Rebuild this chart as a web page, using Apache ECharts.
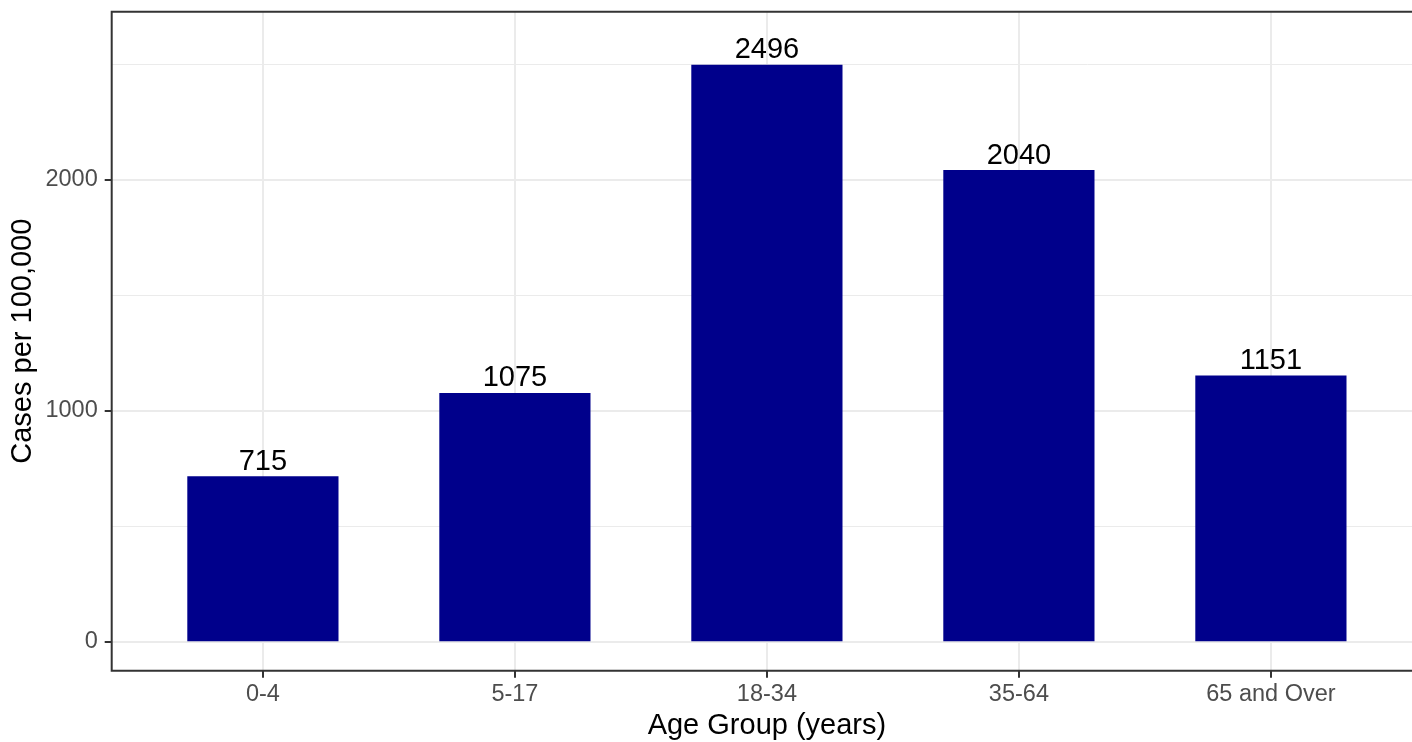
<!DOCTYPE html>
<html><head><meta charset="utf-8">
<script src="https://cdn.jsdelivr.net/npm/echarts@6/dist/echarts.min.js"></script>
<style>html,body{margin:0;padding:0;background:#fff}#c{width:1412px;height:742px}</style>
</head><body><div id="c"></div>
<script>
// ---- data ----
const categories = ['0-4', '5-17', '18-34', '35-64', '65 and Over'];
const values = [715, 1075, 2496, 2040, 1151];
const yMajorMax = 2000;   // last labelled tick (0, 1000, 2000)
const yMajorStep = 1000;
const yMinorTop = 2500;   // top minor gridline

// ---- layout ----
const FONT = "'Liberation Sans', Arial, sans-serif";
const PL = 111.7, PT = 11.7, PB = 670.7;
const band = 252, pad = 0.6;
const n = categories.length;
const PR = PL + band * (n - 1 + 2 * pad);
const Y0px = 641.3, k = 0.231;
const yMin = -(PB - Y0px) / k, yMax = (Y0px - PT) / k;
const py = v => Y0px - v * k;

const hidden = { show: false };
const chart = echarts.init(document.getElementById('c'), null, { renderer: 'canvas' });
chart.setOption({
  animation: false,
  textStyle: { fontFamily: FONT },
  grid: [
    { left: PL, top: PT, width: PR - PL, height: PB - PT, show: true, borderColor: '#333333', borderWidth: 2, backgroundColor: 'transparent', containLabel: false, outerBoundsMode: 'none', z: 5 },
    { left: PL, top: py(yMajorMax), width: PR - PL, height: py(0) - py(yMajorMax), containLabel: false, outerBoundsMode: 'none' },
    { left: PL, top: py(yMinorTop), width: PR - PL, height: py(0) - py(yMinorTop), containLabel: false, outerBoundsMode: 'none' },
    { left: PL + pad * band, top: PT, width: band * (n - 1), height: PB - PT, containLabel: false, outerBoundsMode: 'none' }
  ],
  xAxis: [
    { gridIndex: 0, type: 'value', min: 0, max: 1, show: false },
    { gridIndex: 1, type: 'value', min: 0, max: 1, show: false },
    { gridIndex: 2, type: 'value', min: 0, max: 1, show: false },
    {
      gridIndex: 3, type: 'category', data: categories, boundaryGap: false, position: 'bottom',
      axisLine: { show: false, onZero: false },
      axisTick: { show: true, length: 7, alignWithLabel: true, lineStyle: { color: '#333333', width: 2 } },
      axisLabel: { interval: 0, fontSize: 23.5, color: '#4D4D4D', margin: 12, fontFamily: FONT },
      splitLine: { show: true, lineStyle: { color: '#EBEBEB', width: 2 } },
      name: 'Age Group (years)', nameLocation: 'middle', nameGap: 38,
      nameTextStyle: { fontSize: 29, color: '#000000', fontFamily: FONT }
    }
  ],
  yAxis: [
    {
      gridIndex: 0, type: 'value', min: yMin, max: yMax,
      axisLine: hidden, axisTick: hidden, axisLabel: hidden, splitLine: hidden,
      name: 'Cases per 100,000', nameLocation: 'middle', nameGap: 74, nameRotate: 90,
      nameTextStyle: { fontSize: 29, color: '#000000', fontFamily: FONT }
    },
    {
      gridIndex: 1, type: 'value', min: 0, max: yMajorMax, interval: yMajorStep,
      axisLine: { show: false, onZero: false },
      axisTick: { show: true, length: 7, lineStyle: { color: '#333333', width: 2 } },
      axisLabel: { fontSize: 23.5, color: '#4D4D4D', margin: 14, fontFamily: FONT, formatter: v => String(v) },
      splitLine: { show: true, lineStyle: { color: '#EBEBEB', width: 2 } },
      minorTick: { show: false, splitNumber: 2 },
      minorSplitLine: { show: true, lineStyle: { color: '#EBEBEB', width: 1 } }
    },
    {
      gridIndex: 2, type: 'value', min: 0, max: yMinorTop, interval: yMinorTop,
      axisLine: hidden, axisTick: hidden, axisLabel: hidden,
      splitLine: { show: true, lineStyle: { color: '#EBEBEB', width: 1 } }
    },
    { gridIndex: 3, type: 'value', min: yMin, max: yMax, show: false }
  ],
  series: [{
    type: 'bar', xAxisIndex: 3, yAxisIndex: 3, data: values,
    barWidth: pad * band, clip: false,
    itemStyle: { color: '#00008B' },
    label: { show: true, position: 'top', distance: 0, fontSize: 29, color: '#000000', fontFamily: FONT }
  }]
});
</script></body></html>
